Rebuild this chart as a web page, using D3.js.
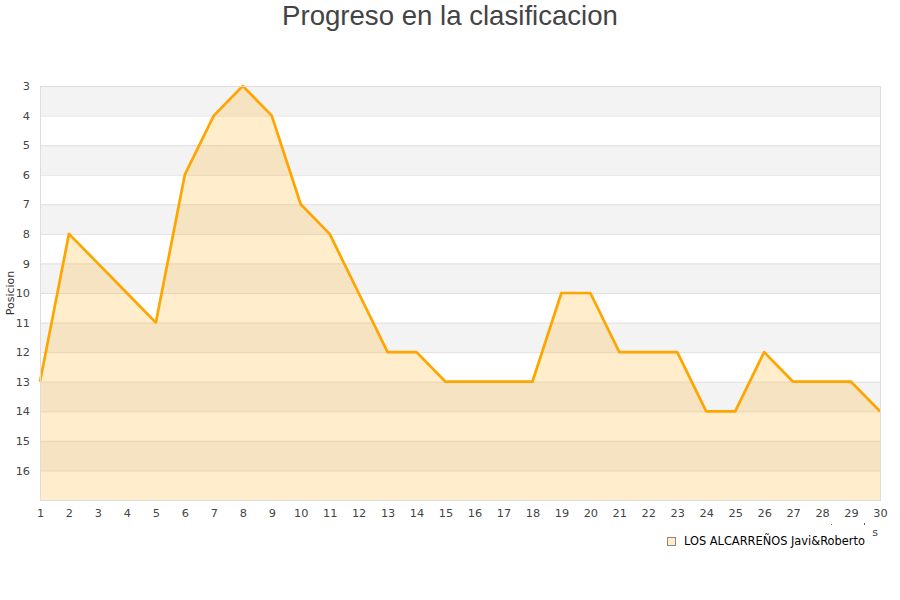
<!DOCTYPE html>
<html>
<head>
<meta charset="utf-8">
<script src="https://cdn.jsdelivr.net/npm/d3@7"></script>
<style>
  body { margin: 0; background: #fff; }
  svg { display: block; font-family: "DejaVu Sans", sans-serif; }
</style>
</head>
<body>
<svg id="chart"></svg>
<script>
const jornadas = d3.range(1, 31)
const posiciones = [13, 8, 9, 10, 11, 6, 4, 3, 4, 7, 8, 10, 12, 12, 13, 13, 13, 13, 10, 10, 12, 12, 12, 14, 14, 12, 13, 13, 13, 14]
const yTicks = d3.range(3, 17)
const seriesName = "LOS ALCARREÑOS Javi&Roberto"

const w = 900
const h = 600
const padLeft = 40, padRight = 880, padTop = 86, padBottom = 500

const svg = d3.select("#chart")
  .attr("width", w)
  .attr("height", h)

const x = d3.scaleLinear().domain([1, 30]).range([padLeft, padRight])
const y = d3.scaleLinear().domain([3, 17]).range([padTop, padBottom])

// bandas alternas
svg.append("g")
  .selectAll("rect")
  .data(d3.range(3, 17))
  .enter()
  .append("rect")
  .attr("x", padLeft)
  .attr("width", padRight - padLeft)
  .attr("y", d => y(d))
  .attr("height", d => y(d + 1) - y(d))
  .attr("fill", d => d % 2 === 1 ? "#f3f3f3" : "#ffffff")

// grid
svg.append("g")
  .selectAll("line")
  .data(d3.range(3, 17))
  .enter()
  .append("line")
  .attr("x1", padLeft)
  .attr("x2", padRight)
  .attr("y1", d => y(d) + 0.5)
  .attr("y2", d => y(d) + 0.5)
  .attr("stroke", "#e0e0e0")

const data = jornadas.map((j, i) => ({ j: j, p: posiciones[i] }))

const area = d3.area()
  .x(d => x(d.j))
  .y0(y(17))
  .y1(d => y(d.p))

const line = d3.line()
  .x(d => x(d.j))
  .y(d => y(d.p))

svg.append("path")
  .datum(data)
  .attr("d", area)
  .attr("fill", "#ffa500")
  .attr("fill-opacity", 0.2)

svg.append("path")
  .datum(data)
  .attr("d", line)
  .attr("fill", "none")
  .attr("stroke", "#ffa500")
  .attr("stroke-width", 2.7)
  .attr("stroke-linejoin", "round")

// borde del area
svg.append("rect")
  .attr("x", padLeft + 0.5)
  .attr("y", padTop + 0.5)
  .attr("width", padRight - padLeft)
  .attr("height", padBottom - padTop)
  .attr("fill", "none")
  .attr("stroke", "#dddddd")

const yAxis = d3.axisLeft(y)
  .tickValues(yTicks)
  .tickSize(0)
  .tickPadding(10)

const xAxis = d3.axisBottom(x)
  .tickValues(jornadas)
  .tickFormat(d3.format("d"))
  .tickSize(0)
  .tickPadding(9)

const gy = svg.append("g")
  .attr("transform", `translate(${padLeft}, 0)`)
  .call(yAxis)
gy.select(".domain").remove()
gy.selectAll("text").attr("font-size", 11.3).attr("fill", "#444").attr("font-family", "DejaVu Sans")

const gx = svg.append("g")
  .attr("transform", `translate(0, ${padBottom})`)
  .call(xAxis)
gx.select(".domain").remove()
gx.selectAll("text").attr("font-size", 11.3).attr("fill", "#444").attr("font-family", "DejaVu Sans")

// resto visible del titulo del eje x
svg.append("text")
  .attr("x", 878)
  .attr("y", 536)
  .attr("text-anchor", "end")
  .attr("font-size", 11)
  .attr("fill", "#444")
  .text("s")
svg.append("rect").attr("x", 831).attr("y", 524).attr("width", 1).attr("height", 1).attr("fill", "#666")
svg.append("rect").attr("x", 864).attr("y", 523).attr("width", 1).attr("height", 2).attr("fill", "#666")

svg.append("text")
  .attr("transform", "translate(14, 293) rotate(-90)")
  .attr("text-anchor", "middle")
  .attr("font-size", 11)
  .attr("fill", "#333")
  .text("Posicion")

svg.append("text")
  .attr("x", w / 2)
  .attr("y", 25)
  .attr("text-anchor", "middle")
  .attr("font-family", "Liberation Sans, Arial, sans-serif")
  .attr("font-size", 27.6)
  .attr("fill", "#444")
  .text("Progreso en la clasificacion")

// leyenda
svg.append("rect")
  .attr("x", 667.5)
  .attr("y", 537.5)
  .attr("width", 8)
  .attr("height", 8)
  .attr("fill", "#ffedcc")
  .attr("stroke", "#888")
svg.append("text")
  .attr("x", 684)
  .attr("y", 545)
  .attr("font-size", 11.4)
  .attr("fill", "#000")
  .text(seriesName)
</script>
</body>
</html>
